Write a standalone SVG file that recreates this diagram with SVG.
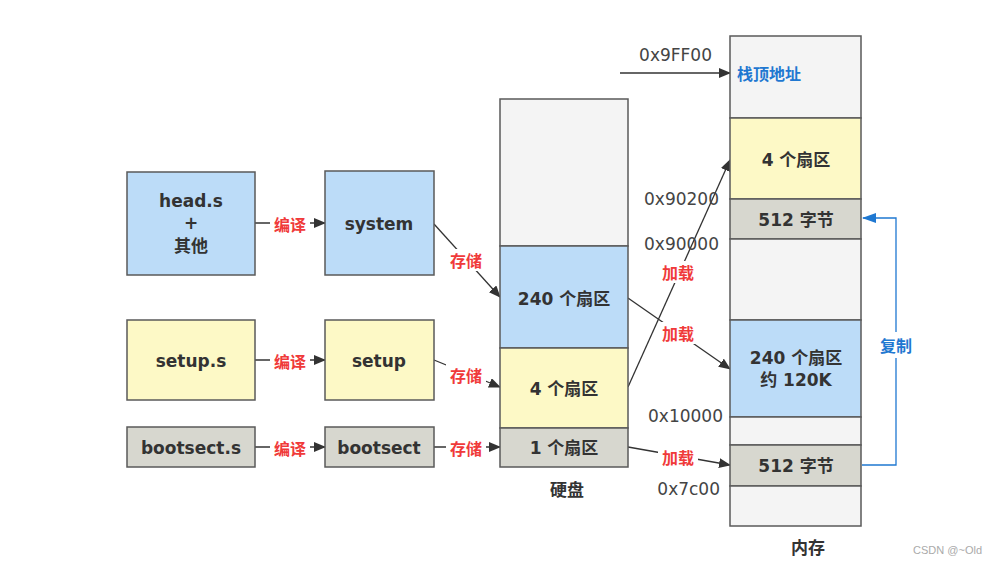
<svg xmlns="http://www.w3.org/2000/svg" width="987" height="568" viewBox="0 0 987 568">
<style>
.box{stroke:#5a5a5a;stroke-width:1.5}
.b{fill:#bcdcf8}.y{fill:#fdf9c6}.g{fill:#d7d7cf}.l{fill:#f4f4f4}
.t{font-family:"DejaVu Sans","Noto Sans CJK SC",sans-serif;font-weight:bold;font-size:17px;fill:#333;text-anchor:middle;dominant-baseline:central}
.r{font-family:"Noto Sans CJK SC",sans-serif;font-weight:bold;font-size:16px;fill:#f03a3a;text-anchor:middle;dominant-baseline:central}
.a{font-family:"DejaVu Sans","Noto Sans",sans-serif;font-size:17px;fill:#444;text-anchor:end;dominant-baseline:central}
.bl{font-family:"Noto Sans CJK SC",sans-serif;font-weight:bold;font-size:16px;fill:#1f78d1;dominant-baseline:central}
.c{stroke:#333;stroke-width:1.3;fill:none;marker-end:url(#ah)}
</style>
<defs>
<marker id="ah" markerWidth="12" markerHeight="10" refX="11" refY="5" orient="auto" markerUnits="userSpaceOnUse"><path d="M0,0 L12,5 L0,10 Z" fill="#333"/></marker>
<marker id="ahb" markerWidth="14" markerHeight="10" refX="13" refY="5" orient="auto" markerUnits="userSpaceOnUse"><path d="M0,0 L14,5 L0,10 Z" fill="#1f78d1"/></marker>
</defs>
<rect width="987" height="568" fill="#fff"/>
<g id="connectors">
<line class="c" x1="255" y1="223" x2="325" y2="223"/>
<line class="c" x1="255" y1="360" x2="325" y2="360"/>
<line class="c" x1="255" y1="447" x2="325" y2="447"/>
<line class="c" x1="434" y1="224" x2="500" y2="297"/>
<line class="c" x1="434" y1="360" x2="500" y2="387"/>
<line class="c" x1="434" y1="447" x2="500" y2="447"/>
<line class="c" x1="628" y1="387" x2="730" y2="160"/>
<line class="c" x1="628" y1="298" x2="730" y2="369"/>
<line class="c" x1="628" y1="447" x2="730" y2="465"/>
<line class="c" x1="620" y1="73" x2="730" y2="73"/>
<polyline points="862,465 896,465 896,218 863,218" fill="none" stroke="#1f78d1" stroke-width="1.3" marker-end="url(#ahb)"/>
<rect x="270" y="213" width="40" height="22" fill="#fff"/>
<rect x="270" y="350" width="40" height="22" fill="#fff"/>
<rect x="270" y="437" width="40" height="22" fill="#fff"/>
<rect x="446" y="249" width="40" height="22" fill="#fff"/>
<rect x="446" y="364" width="40" height="22" fill="#fff"/>
<rect x="446" y="437" width="40" height="22" fill="#fff"/>
<rect x="658" y="261" width="40" height="22" fill="#fff"/>
<rect x="658" y="322" width="40" height="22" fill="#fff"/>
<rect x="658" y="446" width="40" height="22" fill="#fff"/>
<rect x="876" y="332" width="40" height="26" fill="#fff"/>
<text class="r" x="290" y="224">编译</text>
<text class="r" x="290" y="361">编译</text>
<text class="r" x="290" y="448">编译</text>
<text class="r" x="466" y="260">存储</text>
<text class="r" x="466" y="375">存储</text>
<text class="r" x="466" y="448">存储</text>
<text class="r" x="678" y="272">加载</text>
<text class="r" x="678" y="333">加载</text>
<text class="r" x="678" y="457">加载</text>
<text class="bl" x="896" y="345" text-anchor="middle" font-size="18">复制</text>
</g>
<g id="head"><rect class="box b" x="127" y="172" width="128" height="103"/>
<text class="t" x="191" y="201">head.s</text><text class="t" x="191" y="223" font-size="15">+</text><text class="t" x="191" y="246">其他</text></g>
<g id="system"><rect class="box b" x="325" y="171" width="109" height="104"/><text class="t" x="379" y="224">system</text></g>
<g id="setups"><rect class="box y" x="127" y="320" width="128" height="80"/><text class="t" x="191" y="361">setup.s</text></g>
<g id="setup"><rect class="box y" x="325" y="320" width="109" height="80"/><text class="t" x="379" y="361">setup</text></g>
<g id="bootsects"><rect class="box g" x="127" y="427" width="128" height="40"/><text class="t" x="191" y="448">bootsect.s</text></g>
<g id="bootsect"><rect class="box g" x="325" y="427" width="109" height="40"/><text class="t" x="379" y="448">bootsect</text></g>
<g id="disk">
<rect class="box l" x="500" y="99" width="128" height="147"/>
<rect class="box b" x="500" y="246" width="128" height="102"/>
<rect class="box y" x="500" y="348" width="128" height="80"/>
<rect class="box g" x="500" y="428" width="128" height="39"/>
<text class="t" x="564" y="299">240 个扇区</text>
<text class="t" x="564" y="389">4 个扇区</text>
<text class="t" x="564" y="448">1 个扇区</text>
<text class="t" x="567" y="490" font-size="18">硬盘</text>
</g>
<g id="memory">
<rect class="box l" x="730" y="36" width="131" height="82"/>
<rect class="box y" x="730" y="118" width="131" height="81"/>
<rect class="box g" x="730" y="199" width="131" height="40"/>
<rect class="box l" x="730" y="239" width="131" height="81"/>
<rect class="box b" x="730" y="320" width="131" height="97"/>
<rect class="box l" x="730" y="417" width="131" height="28"/>
<rect class="box g" x="730" y="445" width="131" height="41"/>
<rect class="box l" x="730" y="486" width="131" height="40"/>
<text class="bl" x="737" y="73">栈顶地址</text>
<text class="t" x="796" y="160">4 个扇区</text>
<text class="t" x="796" y="220">512 字节</text>
<text class="t" x="796" y="358">240 个扇区</text>
<text class="t" x="796" y="380">约 120K</text>
<text class="t" x="796" y="466">512 字节</text>
<text class="t" x="808" y="548" font-size="18">内存</text>
</g>
<g id="addresses">
<text class="a" x="712" y="55">0x9FF00</text>
<text class="a" x="719" y="199">0x90200</text>
<text class="a" x="719" y="244">0x90000</text>
<text class="a" x="723" y="416">0x10000</text>
<text class="a" x="720" y="489">0x7c00</text>
</g>
<text x="982" y="554" font-family="Liberation Sans,sans-serif" font-size="11" fill="#aaa" text-anchor="end">CSDN @~Old</text>
</svg>
